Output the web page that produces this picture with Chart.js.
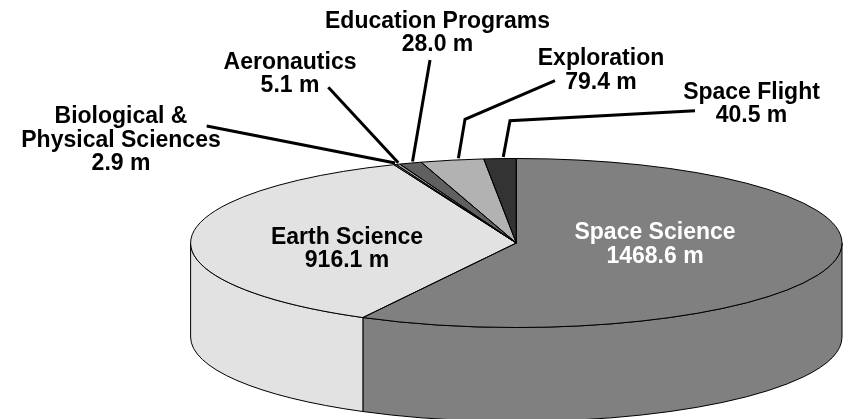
<!DOCTYPE html>
<html>
<head>
<meta charset="utf-8">
<script src="https://cdn.jsdelivr.net/npm/chart.js@4/dist/chart.umd.min.js"></script>
<style>
  html, body { margin: 0; padding: 0; background: #ffffff; }
  #wrap { width: 849px; height: 419px; position: relative; }
</style>
</head>
<body>
<div id="wrap"><canvas id="c" width="849" height="419"></canvas></div>
<script>
// ---- data ----
const categories = ['Space Science', 'Earth Science', 'Biological & Physical Sciences', 'Aeronautics', 'Education Programs', 'Exploration', 'Space Flight'];
const labelNames = [['Space Science'], ['Earth Science'], ['Biological &', 'Physical Sciences'], ['Aeronautics'], ['Education Programs'], ['Exploration'], ['Space Flight']];
const budgets = [1468.6, 916.1, 2.9, 5.1, 28.0, 79.4, 40.5];
const unitSuffix = ' m';
const sliceColors = ['#808080', '#e2e2e2', '#cfcfcf', '#a0a0a0', '#606060', '#b2b2b2', '#333333'];

// ---- layout / style ----
const GEOM = { cx: 516.3, cy: 243, rx: 325.7, ry: 84.5, depth: 94 };
const FONT = 'bold 23px "Liberation Sans", Arial, Helvetica, sans-serif';
const LINE_PITCH = 23.5;
const labelLayout = [
  { x: 655, y: 239, color: '#ffffff' },
  { x: 347, y: 243.5, color: '#000000' },
  { x: 121, y: 123, color: '#000000' },
  { x: 290, y: 68.5, color: '#000000' },
  { x: 437.5, y: 27.5, color: '#000000' },
  { x: 601, y: 65, color: '#000000' },
  { x: 751.5, y: 98.5, color: '#000000' }
];
const leaders = [
  null,
  null,
  { from: [206.7, 126] },
  { from: [328.3, 87.3] },
  { from: [430, 60] },
  { from: [555, 80.7], bend: [465, 119.3] },
  { from: [695, 110.7], bend: [510, 120.7] }
];
const LEADER_FRAC = 0.6;

function applyPieTransform(ctx, arc0) {
  const R = arc0.outerRadius;
  ctx.translate(GEOM.cx, GEOM.cy);
  ctx.scale(GEOM.rx / R, GEOM.ry / R);
  ctx.translate(-arc0.x, -arc0.y);
}

const pie3d = {
  id: 'pie3d',
  beforeDatasetsDraw(chart) {
    const ctx = chart.ctx;
    const meta = chart.getDatasetMeta(0);
    const { cx, cy, rx, ry, depth } = GEOM;
    // side walls (front half only)
    ctx.save();
    ctx.lineWidth = 1;
    ctx.strokeStyle = '#000000';
    meta.data.forEach((arc, i) => {
      const lo = Math.max(arc.startAngle, 0);
      const hi = Math.min(arc.endAngle, Math.PI);
      if (hi <= lo) return;
      ctx.beginPath();
      ctx.ellipse(cx, cy, rx, ry, 0, lo, hi);
      ctx.lineTo(cx + rx * Math.cos(hi), cy + ry * Math.sin(hi) + depth);
      ctx.ellipse(cx, cy + depth, rx, ry, 0, hi, lo, true);
      ctx.closePath();
      ctx.fillStyle = sliceColors[i];
      ctx.fill();
      ctx.stroke();
    });
    ctx.restore();
    // squash the library's pie into the top ellipse
    ctx.save();
    applyPieTransform(ctx, meta.data[0]);
  },
  afterDatasetsDraw(chart) {
    const ctx = chart.ctx;
    ctx.restore();
    const meta = chart.getDatasetMeta(0);
    const arc0 = meta.data[0];
    // outlines of top faces, stroked with an untransformed pen
    meta.data.forEach((arc) => {
      ctx.save();
      applyPieTransform(ctx, arc0);
      ctx.beginPath();
      ctx.moveTo(arc.x, arc.y);
      ctx.arc(arc.x, arc.y, arc.outerRadius, arc.startAngle, arc.endAngle);
      ctx.closePath();
      ctx.restore();
      ctx.save();
      ctx.lineWidth = 1;
      ctx.strokeStyle = '#000000';
      ctx.lineJoin = 'round';
      ctx.stroke();
      ctx.restore();
    });
    // leader lines
    ctx.save();
    ctx.lineWidth = 3;
    ctx.strokeStyle = '#000000';
    ctx.lineJoin = 'miter';
    meta.data.forEach((arc, i) => {
      const L = leaders[i];
      if (!L) return;
      const a = arc.startAngle + (arc.endAngle - arc.startAngle) * LEADER_FRAC;
      const ex = GEOM.cx + GEOM.rx * Math.cos(a);
      const ey = GEOM.cy + GEOM.ry * Math.sin(a) - 1.5;
      ctx.beginPath();
      ctx.moveTo(L.from[0], L.from[1]);
      if (L.bend) ctx.lineTo(L.bend[0], L.bend[1]);
      ctx.lineTo(ex, ey);
      ctx.stroke();
    });
    ctx.restore();
    // labels
    ctx.save();
    ctx.font = FONT;
    ctx.textAlign = 'center';
    ctx.textBaseline = 'alphabetic';
    labelLayout.forEach((p, i) => {
      const lines = labelNames[i].concat([budgets[i].toFixed(1) + unitSuffix]);
      ctx.fillStyle = p.color;
      lines.forEach((t, k) => ctx.fillText(t, p.x, p.y + k * LINE_PITCH));
    });
    ctx.restore();
  }
};

new Chart(document.getElementById('c'), {
  type: 'pie',
  data: {
    labels: categories,
    datasets: [{
      data: budgets,
      backgroundColor: sliceColors,
      borderWidth: 0,
      clip: false,
      hoverOffset: 0
    }]
  },
  options: {
    responsive: false,
    animation: false,
    events: [],
    rotation: 0,
    layout: { padding: 0 },
    plugins: {
      legend: { display: false },
      tooltip: { enabled: false }
    }
  },
  plugins: [pie3d]
});
</script>
</body>
</html>
